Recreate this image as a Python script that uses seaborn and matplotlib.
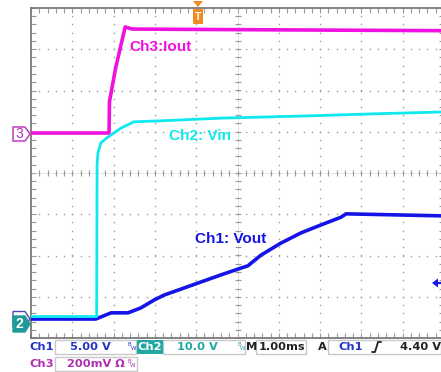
import numpy as np
import seaborn as sns
import matplotlib.pyplot as plt
from matplotlib.patches import Polygon, Rectangle

# traces, in scope divisions (x: 0..10, y: -4..4)
ch1_x = [0, 1.57, 1.69, 1.94, 2.35, 2.66, 2.98, 3.22, 3.70, 4.12, 4.60, 5.01,
         5.25, 5.57, 6.05, 6.54, 7.02, 7.51, 7.63, 10.0]
ch1_y = [-3.54, -3.54, -3.49, -3.39, -3.39, -3.27, -3.08, -2.96, -2.79, -2.64,
         -2.47, -2.33, -2.25, -1.99, -1.70, -1.45, -1.26, -1.07, -0.99, -1.04]

ch2_x = [0, 1.59, 1.60, 1.62, 1.69, 1.86, 2.18, 2.49, 3.5, 4.6, 6.54, 8.5, 10.0]
ch2_y = [-3.48, -3.48, 0.20, 0.48, 0.73, 0.87, 1.09, 1.24, 1.28, 1.33, 1.38,
         1.44, 1.48]

ch3_x = [0, 1.89, 1.90, 2.05, 2.28, 2.45, 4.0, 6.0, 8.0, 10.0]
ch3_y = [0.97, 0.97, 1.73, 2.55, 3.54, 3.49, 3.48, 3.47, 3.46, 3.45]

labels = ['Ch3:Iout', 'Ch2: Vin', 'Ch1: Vout']

C1 = '#1414e6'
C2 = '#10e8f0'
C3 = '#f010e0'
GRID = '#9a9a9a'

sns.set_style('white')
plt.rcParams['font.family'] = ['Liberation Sans', 'DejaVu Sans']

fig = plt.figure(figsize=(4.41, 3.72), dpi=100)
ax = fig.add_axes([31 / 441, 1 - 338 / 372, 413 / 441, 330 / 372])
ax.set_xlim(0, 10)
ax.set_ylim(-4, 4)

# dotted graticule
ticks_x = np.arange(0, 10.01, 0.2)
ticks_y = np.arange(-4, 4.01, 0.2)
for gx in range(1, 10):
    ax.plot([gx] * len(ticks_y), ticks_y, ls='none', marker='s', ms=1.0, mew=0,
            color=GRID, zorder=1)
for gy in range(-3, 4):
    ax.plot(ticks_x, [gy] * len(ticks_x), ls='none', marker='s', ms=1.0, mew=0,
            color=GRID, zorder=1)
# centre cross
ax.axhline(0, color='#c4c4c4', lw=0.6, ls=(0, (1, 1)), zorder=1)
ax.axvline(5, color='#c4c4c4', lw=0.6, ls=(0, (1, 1)), zorder=1)
ax.plot(ticks_x, [0] * len(ticks_x), ls='none', marker='|', ms=4.5, mew=0.8, color=GRID, zorder=1)
ax.plot([5] * len(ticks_y), ticks_y, ls='none', marker='_', ms=4.5, mew=0.8, color=GRID, zorder=1)

ax.set_xticks(np.arange(0, 10.01, 1))
ax.set_yticks(np.arange(-4, 4.01, 1))
ax.set_xticks(ticks_x, minor=True)
ax.set_yticks(ticks_y, minor=True)
ax.tick_params(which='both', direction='in', length=3.5, width=0.8, color='#999999',
               top=True, bottom=True, left=True, right=True,
               labelbottom=False, labelleft=False)
for s in ax.spines.values():
    s.set_color('#7a7a7a')
    s.set_linewidth(1.3)

sns.lineplot(x=ch1_x, y=ch1_y, color=C1, lw=2.6, ax=ax, estimator=None, sort=False, zorder=3)
sns.lineplot(x=ch3_x, y=ch3_y, color=C3, lw=2.6, ax=ax, estimator=None, sort=False, zorder=3)
sns.lineplot(x=ch2_x, y=ch2_y, color=C2, lw=2.0, ax=ax, estimator=None, sort=False, zorder=4)

ax.text(2.37, 3.05, labels[0], color=C3, fontsize=11, fontweight='bold', va='center')
ax.text(3.34, 0.90, labels[1], color=C2, fontsize=11, fontweight='bold', va='center')
ax.text(3.97, -1.60, labels[2], color=C1, fontsize=11, fontweight='bold', va='center')

# overlay in pixel coordinates for scope decorations
ov = fig.add_axes([0, 0, 1, 1], zorder=5)
ov.set_xlim(0, 441)
ov.set_ylim(372, 0)
ov.axis('off')
ov.patch.set_alpha(0)

def pent(x0, yc, w=17, h=14):
    return [(x0, yc - h / 2), (x0 + w - 5, yc - h / 2), (x0 + w, yc),
            (x0 + w - 5, yc + h / 2), (x0, yc + h / 2)]

ov.add_patch(Polygon(pent(13, 134), closed=True, fc='white', ec='#c040c0', lw=1.1))
ov.text(19.5, 134.5, '3', color='#b030b0', fontsize=10, ha='center', va='center')
ov.add_patch(Polygon(pent(13, 319, h=15), closed=True, fc='white', ec='#4a4ab8', lw=1.0))
ov.add_patch(Polygon(pent(13, 324, h=16), closed=True, fc='#1f9a96', ec='#1f9a96', lw=1.0))
ov.text(19.5, 324.5, '2', color='white', fontsize=10, fontweight='bold', ha='center', va='center')

# trigger marker
ov.add_patch(Polygon([(193, 1), (203, 1), (198, 7)], closed=True, fc='#f08a24', ec='none'))
ov.add_patch(Rectangle((193, 9), 10, 15, fc='#f08a24', ec='none'))
ov.text(198, 16.5, 'T', color='white', fontsize=7.5, fontweight='bold', ha='center', va='center')

# trigger level arrow
ov.add_patch(Polygon([(432, 283), (438, 278.5), (438, 287.5)], closed=True, fc=C1, ec='none'))
ov.plot([436, 441], [283, 283], color=C1, lw=1.6)

# status bar
BOX = '#c8c8c8'
SFONT = ['DejaVu Sans']
st1 = '#2436c8'
st2 = '#1fa8a4'
st3 = '#b030b0'
FS = 8.2
FW = 'bold'

def box(x0, x1, y0, y1):
    ov.add_patch(Rectangle((x0, y0), x1 - x0, y1 - y0, fc='white', ec=BOX, lw=1))

def bw(x, y, c):
    ov.text(x, y - 2.5, 'B', color=c, fontsize=4.0, ha='left', va='center', family=SFONT)
    ov.text(x + 2.5, y + 1.5, 'W', color=c, fontsize=4.0, ha='left', va='center', family=SFONT)

r1, r2 = 347, 364
box(55, 136, 340, 354)
box(163, 245, 340, 354)
box(256, 306, 340, 354)
box(328, 441, 340, 354)
box(55, 137, 357, 371)

ov.text(29, r1, 'Ch1', color=st1, fontsize=FS, fontweight=FW, va='center', family=SFONT)
ov.text(70, r1, '5.00 V', color=st1, fontsize=FS, fontweight=FW, va='center', family=SFONT)
bw(128, r1, st1)
ov.add_patch(Rectangle((137, 340), 26, 14, fc=st2, ec='none'))
ov.text(150, r1, 'Ch2', color='white', fontsize=FS, fontweight=FW, ha='center', va='center', family=SFONT)
ov.text(177, r1, '10.0 V', color=st2, fontsize=FS, fontweight=FW, va='center', family=SFONT)
bw(237, r1, st2)
ov.text(246, r1, 'M', color='#222222', fontsize=FS, fontweight=FW, va='center', family=SFONT)
ov.text(259, r1, '1.00ms', color='#222222', fontsize=FS, fontweight=FW, va='center', family=SFONT)
ov.text(318, r1, 'A', color='#222222', fontsize=FS, fontweight=FW, va='center', family=SFONT)
ov.text(338, r1, 'Ch1', color=st1, fontsize=FS, fontweight=FW, va='center', family=SFONT)
ov.plot([372, 375, 378, 381], [352, 352, 342, 342], color='#222222', lw=1.3)
ov.text(400, r1, '4.40 V', color='#222222', fontsize=FS, fontweight=FW, va='center', family=SFONT)

ov.text(29, r2, 'Ch3', color=st3, fontsize=FS, fontweight=FW, va='center', family=SFONT)
ov.text(67, r2, '200mV Ω', color=st3, fontsize=FS, fontweight=FW, va='center', family=SFONT)
bw(127, r2, st3)

fig.savefig('out.png', dpi=100)
